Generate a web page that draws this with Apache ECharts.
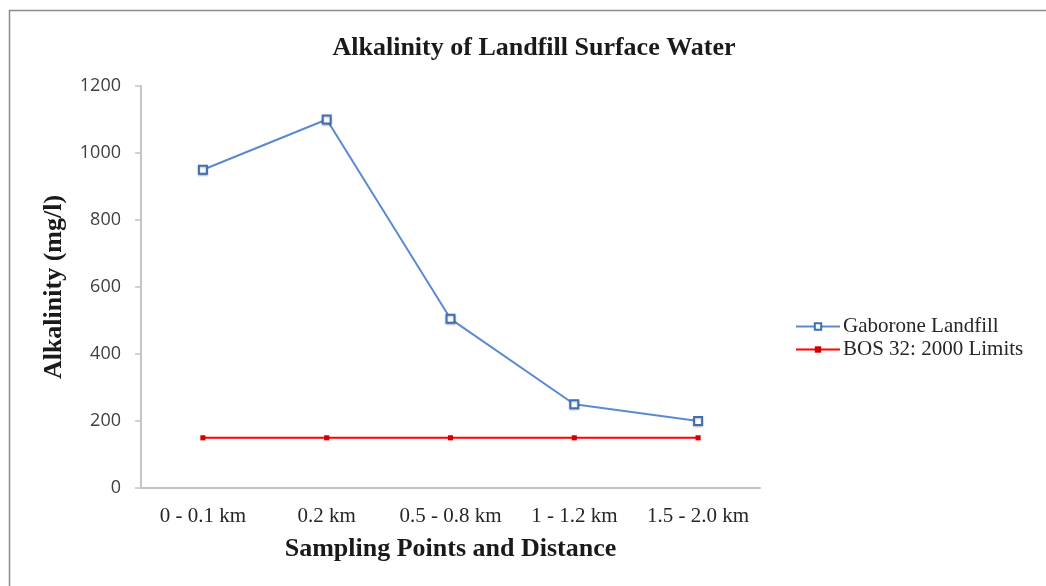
<!DOCTYPE html>
<html>
<head>
<meta charset="utf-8">
<script src="https://cdn.jsdelivr.net/npm/echarts@6/dist/echarts.min.js"></script>
<style>
  html, body { margin: 0; padding: 0; background: #fff; }
  #chart { width: 1046px; height: 586px; }
</style>
</head>
<body>
<div id="chart"></div>
<script>
const categories = ["0 - 0.1 km", "0.2 km", "0.5 - 0.8 km", "1 - 1.2 km", "1.5 - 2.0 km"];
const gaboroneValues = [950, 1100, 505, 250, 200];
const bosLimitValues = [150, 150, 150, 150, 150];
const seriesNames = ["Gaborone Landfill", "BOS 32: 2000 Limits"];

const chart = echarts.init(document.getElementById("chart"));
const serif = "'Liberation Serif', 'Times New Roman', serif";

const option = {
  animation: false,
  backgroundColor: "#fff",
  graphic: [
    {
      type: "rect",
      shape: { x: 9.5, y: 10.5, width: 1050, height: 600 },
      style: { fill: "none", stroke: "#8c8c8c", lineWidth: 1.5 },
      silent: true,
    },
  ],
  title: {
    text: "Alkalinity of Landfill Surface Water",
    left: 529,
    textAlign: "center",
    top: 30,
    textStyle: {
      fontFamily: serif,
      fontSize: 26,
      fontWeight: "bold",
      color: "#1a1a1a",
    },
  },
  grid: {
    left: 141,
    right: 286,
    top: 86,
    bottom: 98,
  },
  xAxis: {
    type: "category",
    data: categories,
    boundaryGap: true,
    name: "Sampling Points and Distance",
    nameLocation: "middle",
    nameGap: 48,
    nameTextStyle: {
      fontFamily: serif,
      fontSize: 26,
      fontWeight: "bold",
      color: "#1a1a1a",
    },
    axisLine: { lineStyle: { color: "#c4c4c4", width: 2 } },
    axisTick: { show: false },
    axisLabel: {
      interval: 0,
      hideOverlap: false,
      margin: 18,
      fontFamily: serif,
      fontSize: 21,
      color: "#262626",
    },
  },
  yAxis: {
    type: "value",
    min: 0,
    max: 1200,
    interval: 200,
    name: "Alkalinity (mg/l)",
    nameLocation: "middle",
    nameGap: 74,
    nameTextStyle: {
      fontFamily: serif,
      fontSize: 26,
      fontWeight: "bold",
      color: "#1a1a1a",
    },
    axisLine: { show: true, lineStyle: { color: "#c4c4c4", width: 2 } },
    axisTick: { show: true, length: 6, lineStyle: { color: "#c4c4c4", width: 1.5 } },
    axisLabel: {
      margin: 20,
      fontFamily: "'Open Sans', 'Liberation Sans', sans-serif",
      fontSize: 18,
      color: "#404040",
      formatter: (v) => String(v),
    },
    splitLine: { show: false },
  },
  legend: {
    orient: "vertical",
    left: 795,
    top: 316,
    itemWidth: 44,
    itemHeight: 8,
    itemGap: 2,
    padding: 0,
    data: seriesNames,
    textStyle: {
      fontFamily: serif,
      fontSize: 21,
      color: "#262626",
      padding: [0, 0, 0, -2],
    },
  },
  series: [
    {
      name: seriesNames[0],
      type: "line",
      data: gaboroneValues,
      symbol: "rect",
      symbolSize: 8,
      showSymbol: true,
      lineStyle: { color: "#5a8ad0", width: 2 },
      itemStyle: {
        color: "#ffffff",
        borderColor: "#3f6fb0",
        borderWidth: 2,
        shadowColor: "rgba(0,0,0,0.25)",
        shadowBlur: 2,
        shadowOffsetY: 1,
      },
      z: 3,
    },
    {
      name: seriesNames[1],
      type: "line",
      data: bosLimitValues,
      symbol: "rect",
      symbolSize: 5,
      showSymbol: true,
      lineStyle: { color: "#ff0000", width: 2 },
      itemStyle: {
        color: "#d40000",
        shadowColor: "rgba(0,0,0,0.2)",
        shadowBlur: 2,
        shadowOffsetY: 1,
      },
      z: 2,
    },
  ],
};

chart.setOption(option);
</script>
</body>
</html>
